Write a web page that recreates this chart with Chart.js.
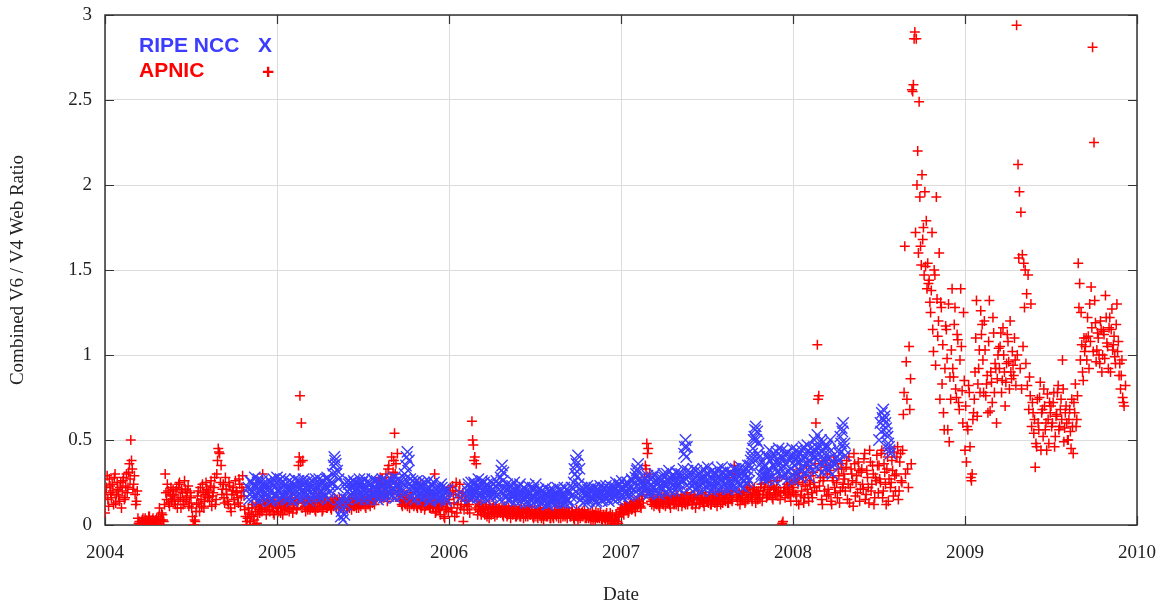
<!DOCTYPE html>
<html>
<head>
<meta charset="utf-8">
<title>Combined V6 / V4 Web Ratio</title>
<script src="https://cdn.jsdelivr.net/npm/chart.js@4.4.1/dist/chart.umd.min.js"></script>
<style>
    html, body { margin: 0; padding: 0; background: #fff; }
    #wrap { width: 1162px; height: 607px; position: relative; }
</style>
</head>
<body>
<div id="wrap"><canvas id="ratioChart"></canvas></div>
<script>
// Axis ticks
const yearTicks = [2004, 2005, 2006, 2007, 2008, 2009, 2010];
const yearLabels = ['2004', '2005', '2006', '2007', '2008', '2009', '2010'];
const ratioTicks = [0, 0.5, 1, 1.5, 2, 2.5, 3];
const ratioLabels = ['0', '0.5', '1', '1.5', '2', '2.5', '3'];

// Samples are ~3 days apart (120 per year), one row = 0.1 year.
// The "B" lists hold the readings that fall halfway between the "A" ones.
const sampleStep = 1 / 120;
const apnicStart = 2004.0;
const ripeStart = 2004.8333;

const apnicRatioA = [
    // 2004
    0.07,0.22,0.15,0.27,0.19,0.24,0.12,0.3,0.18,0.21,0.14,0.25,
    0.2,0.28,0.16,0.3,0.22,0.36,0.5,0.33,0.24,0.18,0.14,0.04,
    0.02,0,0.03,0.01,0.04,0,0.02,0.05,0.01,0.03,0,0.02,
    0.04,0.01,0.1,0.03,0.06,0.02,0.3,0.15,0.2,0.11,0.22,0.17,
    0.18,0.12,0.22,0.15,0.25,0.1,0.19,0.14,0.21,0.17,0.23,0.13,
    0.16,0.05,0,0.02,0.12,0.2,0.08,0.15,0.24,0.1,0.18,0.21,
    0.2,0.14,0.26,0.17,0.22,0.12,0.3,0.45,0.42,0.35,0.21,0.16,
    0.28,0.18,0.12,0.23,0.08,0.2,0.15,0.26,0.19,0.13,0.24,0.17,
    0.29,0.17,0.05,0.02,0.1,0,0.06,0.12,0.03,0.08,0.01,0.11,
    0.07,0.1,0.3,0.14,0.12,0.09,0.15,0.08,0.13,0.11,0.06,0.12,
    // 2005
    0.12,0.08,0.14,0.1,0.06,0.16,0.11,0.09,0.13,0.1,0.15,0.07,
    0.12,0.14,0.1,0.35,0.76,0.6,0.38,0.13,0.08,0.15,0.11,0.09,
    0.12,0.1,0.15,0.08,0.13,0.17,0.11,0.14,0.09,0.12,0.16,0.1,
    0.11,0.14,0.09,0.13,0.16,0.12,0.15,0.1,0.13,0.11,0.14,0.12,
    0.13,0.1,0.15,0.12,0.09,0.14,0.11,0.16,0.12,0.1,0.13,0.15,
    0.12,0.15,0.1,0.18,0.13,0.11,0.2,0.14,0.12,0.16,0.25,0.19,
    0.28,0.15,0.22,0.18,0.3,0.14,0.35,0.25,0.4,0.31,0.54,0.36,
    0.42,0.2,0.15,0.12,0.17,0.13,0.16,0.11,0.14,0.19,0.12,0.15,
    0.12,0.15,0.1,0.13,0.24,0.11,0.14,0.09,0.15,0.12,0.18,0.1,
    0.13,0.1,0.3,0.08,0.12,0.15,0.06,0.11,0.14,0.04,0.09,0.13,
    // 2006
    0.15,0.22,0.08,0.18,0.05,0.25,0.12,0.2,0.1,0.17,0.02,0.14,
    0.14,0.09,0.12,0.2,0.61,0.47,0.4,0.36,0.06,0.11,0.08,0.13,
    0.09,0.06,0.11,0.07,0.04,0.1,0.08,0.12,0.05,0.09,0.07,0.1,
    0.07,0.1,0.05,0.08,0.11,0.06,0.09,0.04,0.1,0.07,0.08,0.05,
    0.06,0.09,0.05,0.08,0.04,0.1,0.07,0.05,0.09,0.06,0.08,0.04,
    0.05,0.08,0.04,0.07,0.1,0.06,0.03,0.08,0.05,0.07,0.09,0.04,
    0.06,0.04,0.09,0.05,0.07,0.11,0.04,0.08,0.06,0.05,0.1,0.07,
    0.07,0.05,0.08,0.04,0.06,0.09,0.03,0.07,0.05,0.08,0.06,0.04,
    0.04,0.07,0.05,0.03,0.08,0.06,0.02,0.05,0.07,0.04,0.06,0.03,
    0.06,0.03,0.07,0.04,0.05,0.02,0.06,0,0.03,0.05,0.01,0.07,
    // 2007
    0.08,0.1,0.06,0.12,0.09,0.07,0.11,0.13,0.1,0.14,0.08,0.12,
    0.12,0.15,0.1,0.18,0.22,0.35,0.48,0.45,0.3,0.14,0.18,0.11,
    0.14,0.12,0.17,0.1,0.15,0.13,0.18,0.11,0.16,0.14,0.12,0.17,
    0.16,0.12,0.15,0.18,0.11,0.14,0.17,0.13,0.15,0.12,0.19,0.14,
    0.14,0.17,0.12,0.16,0.1,0.15,0.18,0.13,0.16,0.14,0.11,0.17,
    0.15,0.13,0.18,0.12,0.16,0.14,0.19,0.11,0.17,0.15,0.2,0.13,
    0.16,0.14,0.19,0.13,0.17,0.15,0.2,0.35,0.3,0.16,0.18,0.12,
    0.18,0.15,0.2,0.14,0.22,0.17,0.21,0.16,0.19,0.22,0.13,0.18,
    0.2,0.16,0.24,0.18,0.22,0.25,0.17,0.28,0.19,0.23,0.15,0.21,
    0.18,0.26,0.2,0.15,0,0.02,0.22,0.19,0.24,0.21,0.17,0.25,
    // 2008
    0.22,0.3,0.18,0.27,0.12,0.33,0.2,0.25,0.16,0.29,0.21,0.14,
    0.24,0.19,0.31,0.22,0.6,1.06,0.76,0.28,0.15,0.26,0.2,0.34,
    0.3,0.18,0.35,0.12,0.26,0.22,0.38,0.16,0.29,0.2,0.33,0.24,
    0.27,0.34,0.15,0.4,0.22,0.3,0.11,0.36,0.25,0.19,0.32,0.21,
    0.33,0.21,0.42,0.18,0.28,0.13,0.37,0.24,0.3,0.16,0.26,0.35,
    0.35,0.25,0.44,0.2,0.31,0.12,0.4,0.27,0.22,0.38,0.17,0.29,
    0.3,0.46,0.2,0.42,0.25,0.65,1.64,0.96,0.33,1.05,0.86,2.56,
    2.59,2.9,2.86,2.2,2.49,1.64,2.06,1.75,1.96,1.79,1.54,1.44,
    1.25,1.72,1.02,1.47,1.93,1.11,1.6,1.31,0.83,0.66,0.92,1.15,
    0.56,0.49,0.74,1.39,0.87,1.28,0.75,1.09,0.68,1.39,0.79,1.25,
    // 2009
    0.44,0.37,0.56,0.78,0.28,0.3,0.66,0.9,1.32,0.83,1.03,1.26,
    1.18,0.78,1.03,0.83,0.66,1.32,0.9,0.72,1.13,0.95,0.6,1,
    0.92,1.13,0.85,1,0.7,0.95,1.08,0.8,0.9,1.02,0.88,0.97,
    2.94,2.12,1.96,1.84,1.59,1.54,1.5,1.36,1.47,0.87,1.3,0.72,
    0.54,0.34,0.46,0.6,0.75,0.44,0.68,0.8,0.56,0.44,0.62,0.72,
    0.7,0.6,0.78,0.52,0.65,0.82,0.58,0.74,0.97,0.49,0.66,0.6,
    0.5,0.68,0.45,0.58,0.72,0.83,0.62,1.54,1.42,1.25,0.9,1.1,
    1.05,0.97,1.11,1.3,1.4,2.81,2.25,1.19,1.03,1.1,0.95,1.15,
    1,1.12,1.35,1.07,0.92,1.22,1.15,1.03,1.11,0.95,1.3,1.08,
    0.95,0.88,0.75,0.7,0.82
];

const apnicRatioB = [
    // 2004
    0.18,0.29,0.11,0.23,0.16,0.2,0.28,0.13,0.25,0.17,0.22,0.1,
    0.26,0.15,0.23,0.19,0.31,0.27,0.38,0.21,0.29,0.12,0.2,0.01,
    0,0.02,0.04,0,0.03,0.01,0.05,0.02,0,0.04,0.01,0.03,
    0.02,0.05,0,0.07,0.03,0.12,0.19,0.24,0.13,0.18,0.14,0.21,
    0.14,0.2,0.1,0.24,0.16,0.21,0.12,0.26,0.15,0.2,0.11,0.19,
    0.1,0,0.03,0.08,0.17,0.13,0.22,0.11,0.19,0.14,0.25,0.16,
    0.17,0.23,0.11,0.19,0.28,0.15,0.38,0.43,0.25,0.18,0.24,0.13,
    0.21,0.14,0.25,0.1,0.18,0.22,0.12,0.2,0.16,0.27,0.11,0.22,
    0.2,0.09,0,0.04,0.07,0.02,0.1,0.05,0,0.13,0.06,0.09,
    0.12,0.08,0.15,0.1,0.06,0.13,0.09,0.14,0.11,0.07,0.16,0.1,
    // 2005
    0.1,0.13,0.07,0.15,0.11,0.09,0.14,0.12,0.08,0.16,0.1,0.13,
    0.15,0.09,0.13,0.4,0.37,0.1,0.14,0.11,0.16,0.09,0.13,0.1,
    0.14,0.11,0.09,0.16,0.1,0.13,0.15,0.08,0.12,0.14,0.1,0.13,
    0.13,0.1,0.15,0.11,0.14,0.1,0.12,0.16,0.11,0.13,0.1,0.15,
    0.11,0.14,0.1,0.13,0.16,0.11,0.14,0.1,0.15,0.12,0.11,0.14,
    0.14,0.11,0.16,0.12,0.15,0.18,0.13,0.17,0.15,0.22,0.2,0.26,
    0.2,0.27,0.16,0.24,0.19,0.33,0.22,0.28,0.18,0.38,0.3,0.24,
    0.18,0.14,0.2,0.11,0.15,0.12,0.18,0.14,0.1,0.16,0.13,0.11,
    0.14,0.11,0.16,0.12,0.1,0.15,0.13,0.11,0.17,0.13,0.1,0.14,
    0.11,0.14,0.07,0.13,0.1,0.09,0.14,0.12,0.05,0.1,0.15,0.08,
    // 2006
    0.19,0.1,0.23,0.13,0.2,0.07,0.16,0.24,0.12,0.19,0.09,0.15,
    0.11,0.15,0.07,0.17,0.5,0.38,0.1,0.14,0.09,0.12,0.06,0.1,
    0.07,0.1,0.05,0.09,0.12,0.06,0.1,0.07,0.11,0.06,0.09,0.08,
    0.09,0.06,0.11,0.07,0.05,0.1,0.07,0.09,0.06,0.11,0.05,0.08,
    0.08,0.05,0.1,0.07,0.09,0.05,0.08,0.11,0.06,0.08,0.05,0.09,
    0.07,0.05,0.09,0.06,0.04,0.08,0.06,0.1,0.05,0.07,0.04,0.08,
    0.05,0.08,0.06,0.09,0.04,0.07,0.09,0.05,0.08,0.06,0.04,0.08,
    0.05,0.08,0.06,0.03,0.07,0.05,0.08,0.04,0.07,0.05,0.09,0.06,
    0.06,0.04,0.07,0.05,0.03,0.06,0.08,0.04,0.05,0.07,0.03,0.06,
    0.04,0.06,0.02,0.05,0.07,0.03,0.01,0.04,0.06,0.02,0.05,0.09,
    // 2007
    0.1,0.07,0.12,0.09,0.11,0.08,0.13,0.09,0.12,0.1,0.14,0.11,
    0.14,0.11,0.17,0.13,0.28,0.33,0.42,0.2,0.16,0.12,0.15,0.13,
    0.13,0.16,0.11,0.14,0.18,0.12,0.15,0.17,0.13,0.16,0.1,0.15,
    0.13,0.16,0.12,0.17,0.14,0.15,0.11,0.16,0.13,0.18,0.12,0.16,
    0.16,0.12,0.15,0.18,0.13,0.17,0.12,0.15,0.19,0.13,0.16,0.14,
    0.14,0.17,0.12,0.15,0.18,0.13,0.16,0.14,0.19,0.12,0.16,0.18,
    0.15,0.18,0.13,0.16,0.2,0.14,0.28,0.32,0.17,0.14,0.19,0.15,
    0.16,0.2,0.13,0.19,0.15,0.23,0.18,0.14,0.21,0.17,0.2,0.15,
    0.18,0.22,0.14,0.2,0.27,0.16,0.21,0.18,0.26,0.16,0.22,0.19,
    0.22,0.17,0.28,0.19,0.01,0.2,0.16,0.27,0.18,0.23,0.14,0.2,
    // 2008
    0.19,0.26,0.14,0.24,0.31,0.17,0.28,0.13,0.23,0.35,0.18,0.26,
    0.29,0.16,0.25,0.36,0.2,0.74,0.23,0.32,0.12,0.28,0.38,0.17,
    0.21,0.32,0.14,0.28,0.4,0.19,0.25,0.33,0.13,0.36,0.22,0.3,
    0.2,0.38,0.24,0.13,0.33,0.26,0.42,0.17,0.29,0.37,0.14,0.31,
    0.24,0.39,0.15,0.32,0.22,0.44,0.2,0.35,0.12,0.28,0.41,0.19,
    0.27,0.42,0.16,0.36,0.24,0.33,0.14,0.45,0.25,0.32,0.43,0.2,
    0.4,0.15,0.37,0.26,0.44,0.78,0.3,0.74,0.22,0.68,0.36,2.55,
    2.86,1.72,2,1.6,1.93,1.53,1.68,1.47,1.52,1.39,1.42,1.31,
    1.38,1.15,1.5,0.94,1.33,1.2,0.74,1.28,1.06,0.56,1.17,0.98,
    1.3,0.87,1.03,0.92,1.18,0.8,1.12,0.72,0.97,1.05,0.6,0.85,
    // 2009
    0.7,0.58,0.82,0.46,0.26,0.62,0.74,1.1,0.64,0.92,0.78,1.12,
    0.97,1.2,0.76,0.88,1.08,0.67,0.84,1.22,0.78,0.92,0.86,1.04,
    1.05,0.78,1.16,0.9,0.84,1.12,0.96,1.2,0.86,0.94,1.1,0.82,
    1,1.57,0.92,0.8,1.05,1.28,0.95,0.82,0.68,0.76,0.58,0.66,
    0.62,0.48,0.74,0.56,0.84,0.66,0.52,0.7,0.6,0.77,0.48,0.66,
    0.58,0.72,0.46,0.64,0.78,0.56,0.68,0.62,0.8,0.57,0.7,0.5,
    0.62,0.55,0.74,0.42,0.66,0.58,0.76,1.28,0.97,1.06,0.85,1.02,
    1.1,1.22,0.92,1.08,1.16,1.02,1.32,0.96,1.13,1,1.2,0.9,
    1.14,0.98,1.22,1.05,1.16,0.9,1.27,1.06,0.99,1.18,1.02,0.88,
    0.8,0.97,0.72
];

const ripeRatioA = [
    // from Nov 2004
    0.22,0.18,0.25,0.2,0.16,0.23,0.19,0.27,0.21,0.17,0.24,0.2,
    0.19,0.23,0.17,0.26,0.2,0.15,0.22,0.18,0.28,0.21,0.16,0.24,
    0.2,0.17,0.24,0.19,0.22,0.16,0.25,0.21,0.18,0.23,0.2,0.26,
    0.18,0.22,0.2,0.25,0.17,0.21,0.24,0.19,0.16,0.23,0.2,0.27,
    0.21,0.18,0.24,0.2,0.26,0.17,0.22,0.28,0.19,0.23,0.25,0.3,
    0.4,0.36,0.32,0.27,0.15,0.08,0.03,0.06,0.12,0.2,0.24,0.18,
    0.22,0.19,0.25,0.17,0.21,0.24,0.2,0.16,0.23,0.27,0.19,0.22,
    0.2,0.24,0.18,0.22,0.26,0.19,0.21,0.17,0.25,0.2,0.23,0.18,
    0.21,0.25,0.19,0.23,0.17,0.22,0.28,0.2,0.24,0.18,0.26,0.21,
    0.24,0.3,0.35,0.43,0.38,0.27,0.22,0.19,0.25,0.2,0.17,0.23,
    0.19,0.22,0.16,0.2,0.24,0.18,0.21,0.15,0.23,0.19,0.17,0.21,
    0.18,0.2,0.15,0.22,0.17,0.19,0.14,0.21,null,null,null,null,
    null,null,null,null,0.16,null,null,null,null,0.2,0.22,0.18,
    0.21,0.18,0.24,0.2,0.16,0.23,0.19,0.26,0.17,0.22,0.2,0.18,
    0.22,0.19,0.17,0.24,0.2,0.26,0.18,0.21,0.28,0.35,0.31,0.2,
    0.17,0.21,0.19,0.15,0.23,0.18,0.2,0.16,0.22,0.19,0.14,0.21,
    0.18,0.15,0.2,0.17,0.13,0.19,0.16,0.21,0.14,0.18,0.2,0.15,
    0.16,0.13,0.19,0.15,0.18,0.12,0.17,0.2,0.14,0.16,0.19,0.13,
    0.17,0.14,0.2,0.16,0.18,0.13,0.21,0.15,0.19,0.17,0.22,0.25,
    0.3,0.36,0.41,0.33,0.2,0.16,0.19,0.14,0.18,0.21,0.15,0.17,
    0.2,0.16,0.18,0.14,0.21,0.17,0.19,0.15,0.22,0.18,0.16,0.2,
    0.17,0.21,0.19,0.15,0.22,0.18,0.2,0.24,0.17,0.21,0.19,0.23,
    0.2,0.24,0.18,0.22,0.26,0.21,0.28,0.32,0.36,0.25,0.22,0.19,
    0.23,0.27,0.21,0.25,0.19,0.24,0.28,0.22,0.26,0.2,0.25,0.23,
    0.26,0.22,0.28,0.24,0.3,0.21,0.25,0.27,0.23,0.29,0.25,0.22,
    0.27,0.24,0.3,0.26,0.42,0.5,0.46,0.28,0.25,0.3,0.23,0.27,
    0.25,0.29,0.23,0.27,0.31,0.24,0.28,0.26,0.22,0.3,0.25,0.28,
    0.27,0.23,0.3,0.25,0.28,0.22,0.26,0.31,0.24,0.27,0.29,0.23,
    0.26,0.3,0.24,0.28,0.33,0.25,0.29,0.23,0.27,0.31,0.26,0.3,
    0.28,0.32,0.35,0.4,0.45,0.52,0.58,0.55,0.48,0.36,0.3,0.33,
    0.35,0.3,0.4,0.33,0.38,0.28,0.42,0.34,0.37,0.31,0.45,0.36,
    0.33,0.39,0.3,0.36,0.43,0.32,0.38,0.29,0.41,0.35,0.31,0.4,
    0.37,0.32,0.44,0.35,0.4,0.3,0.47,0.38,0.34,0.42,0.36,0.5,
    0.4,0.53,0.45,0.36,0.48,0.38,0.42,0.34,0.46,0.39,0.5,0.37,
    null,null,0.36,0.4,0.44,0.52,0.57,0.6,0.48,null,null,null,
    null,null,null,null,null,null,null,null,null,null,null,null,
    null,null,null,null,null,null,null,null,0.5,0.6,0.66,0.68,
    0.64,0.57,0.52,0.46,0.42
];

const ripeRatioB = [
    0.15,0.26,0.19,0.23,0.28,0.17,0.25,0.14,0.2,0.26,0.16,0.22,
    0.25,0.16,0.21,0.14,0.24,0.27,0.18,0.25,0.15,0.2,0.27,0.17,
    0.23,0.27,0.15,0.21,0.26,0.2,0.14,0.24,0.27,0.17,0.22,0.15,
    0.25,0.15,0.27,0.19,0.23,0.26,0.14,0.22,0.26,0.18,0.24,0.16,
    0.24,0.27,0.16,0.25,0.19,0.23,0.27,0.15,0.26,0.2,0.24,0.35,
    0.38,0.3,0.22,0.12,0.05,0.1,0.16,0.24,0.15,0.26,0.21,0.25,
    0.17,0.26,0.2,0.24,0.15,0.27,0.18,0.25,0.21,0.15,0.25,0.17,
    0.25,0.15,0.27,0.18,0.21,0.26,0.15,0.24,0.19,0.27,0.16,0.24,
    0.26,0.17,0.24,0.27,0.2,0.25,0.16,0.23,0.27,0.21,0.17,0.25,
    0.18,0.27,0.4,0.32,0.24,0.16,0.26,0.22,0.15,0.26,0.21,0.25,
    0.23,0.15,0.25,0.18,0.21,0.26,0.14,0.24,0.17,0.25,0.22,0.15,
    0.22,0.16,0.24,0.18,0.21,0.16,0.2,null,null,null,null,null,
    null,null,null,0.19,null,null,null,null,0.17,0.24,0.16,0.25,
    0.16,0.25,0.19,0.23,0.27,0.17,0.24,0.2,0.25,0.15,0.24,0.21,
    0.16,0.25,0.21,0.18,0.23,0.17,0.24,0.15,0.32,0.26,0.22,0.16,
    0.24,0.15,0.23,0.2,0.17,0.25,0.14,0.22,0.17,0.24,0.19,0.16,
    0.22,0.13,0.17,0.23,0.19,0.14,0.22,0.16,0.24,0.15,0.21,0.13,
    0.2,0.17,0.14,0.22,0.12,0.2,0.15,0.13,0.21,0.17,0.14,0.22,
    0.14,0.21,0.17,0.13,0.22,0.16,0.14,0.2,0.13,0.22,0.18,0.33,
    0.38,0.28,0.24,0.15,0.22,0.13,0.21,0.17,0.23,0.14,0.2,0.22,
    0.15,0.22,0.13,0.2,0.17,0.23,0.14,0.21,0.16,0.23,0.2,0.14,
    0.23,0.16,0.22,0.18,0.25,0.15,0.23,0.19,0.26,0.16,0.24,0.18,
    0.25,0.17,0.23,0.27,0.18,0.24,0.3,0.33,0.27,0.19,0.26,0.24,
    0.2,0.24,0.29,0.18,0.27,0.22,0.19,0.3,0.21,0.27,0.18,0.28,
    0.21,0.3,0.24,0.19,0.27,0.32,0.2,0.29,0.26,0.2,0.31,0.24,
    0.3,0.21,0.27,0.33,0.46,0.4,0.32,0.22,0.31,0.26,0.33,0.21,
    0.32,0.22,0.3,0.2,0.27,0.33,0.21,0.3,0.34,0.23,0.31,0.2,
    0.22,0.31,0.26,0.33,0.21,0.3,0.34,0.22,0.29,0.32,0.21,0.3,
    0.31,0.22,0.33,0.27,0.21,0.32,0.24,0.34,0.3,0.22,0.33,0.25,
    0.35,0.26,0.38,0.42,0.5,0.56,0.5,0.42,0.4,0.28,0.37,0.27,
    0.29,0.41,0.27,0.44,0.3,0.39,0.35,0.26,0.43,0.38,0.3,0.41,
    0.44,0.28,0.36,0.42,0.27,0.4,0.33,0.45,0.26,0.38,0.44,0.3,
    0.42,0.28,0.38,0.46,0.31,0.43,0.36,0.28,0.45,0.32,0.4,0.44,
    0.46,0.33,0.42,0.5,0.31,0.44,0.38,0.47,0.32,0.43,0.35,0.3,
    null,null,null,0.38,0.42,0.48,0.55,0.45,0.41,null,null,null,
    null,null,null,null,null,null,null,null,null,null,null,null,
    null,null,null,null,null,null,null,null,null,0.55,0.63,0.62,
    0.6,0.54,0.48,0.44
];

const RED = 'rgb(255, 0, 0)';
const BLUE = 'rgb(60, 60, 255)';
const SERIF = '"Liberation Serif", "Times New Roman", serif';
const TICK_LEN = 9;

// turn regular sample lists into scatter points, B between the A samples
function toPoints(start, listA, listB) {
    const pts = listA.map((v, i) => ({ x: start + i * sampleStep, y: v }));
    listB.forEach((v, i) => pts.push({ x: start + (i + 0.5) * sampleStep, y: v }));
    return pts;
}

// gnuplot-like frame with inward ticks on all four sides
const frameTicks = {
    id: 'frameTicks',
    beforeDatasetsDraw(chart) {
        const { ctx, chartArea: a, scales: { x, y } } = chart;
        ctx.save();
        ctx.strokeStyle = '#333';
        ctx.lineWidth = 1.5;
        ctx.strokeRect(a.left, a.top, a.right - a.left, a.bottom - a.top);
        ctx.lineWidth = 1.2;
        ctx.beginPath();
        x.ticks.forEach(t => {
            const px = Math.round(x.getPixelForValue(t.value)) + 0.5;
            ctx.moveTo(px, a.bottom); ctx.lineTo(px, a.bottom - TICK_LEN);
            ctx.moveTo(px, a.top); ctx.lineTo(px, a.top + TICK_LEN);
        });
        y.ticks.forEach(t => {
            const py = Math.round(y.getPixelForValue(t.value)) + 0.5;
            ctx.moveTo(a.left, py); ctx.lineTo(a.left + TICK_LEN, py);
            ctx.moveTo(a.right, py); ctx.lineTo(a.right - TICK_LEN, py);
        });
        ctx.stroke();
        ctx.restore();
    }
};

// key in the top left corner, text first then the symbol
const keyBox = {
    id: 'keyBox',
    afterDraw(chart) {
        const { ctx, chartArea: a } = chart;
        ctx.save();
        ctx.font = 'bold 21px "Liberation Sans", Arial, sans-serif';
        ctx.textBaseline = 'middle';
        ctx.textAlign = 'left';
        ctx.fillStyle = BLUE;
        ctx.fillText('RIPE NCC', a.left + 34, a.top + 31);
        ctx.fillText('X', a.left + 153, a.top + 31);
        ctx.fillStyle = RED;
        ctx.fillText('APNIC', a.left + 34, a.top + 56);
        ctx.fillText('+', a.left + 157, a.top + 58);
        ctx.restore();
    }
};

const ctx = document.getElementById('ratioChart').getContext('2d');
const ratioChart = new Chart(ctx, {
    type: 'scatter',
    data: {
        datasets: [
            {
                label: 'RIPE NCC',
                data: toPoints(ripeStart, ripeRatioA, ripeRatioB),
                pointStyle: 'crossRot',
                pointRadius: 8,
                borderColor: BLUE,
                borderWidth: 1.4
            },
            {
                label: 'APNIC',
                data: toPoints(apnicStart, apnicRatioA, apnicRatioB),
                pointStyle: 'cross',
                pointRadius: 5,
                borderColor: RED,
                borderWidth: 1.5
            }
        ]
    },
    options: {
        responsive: true,
        maintainAspectRatio: false,
        animation: false,
        events: [],
        layout: { padding: { left: 0, right: 25, top: 15, bottom: 0 } },
        plugins: {
            legend: { display: false },
            tooltip: { enabled: false }
        },
        scales: {
            x: {
                type: 'linear',
                min: 2004,
                max: 2010,
                afterBuildTicks: s => { s.ticks = yearTicks.map(v => ({ value: v })); },
                afterFit: s => { s.height = 82; s.paddingLeft = 0; s.paddingRight = 0; },
                grid: { color: '#dcdcdc', drawTicks: false },
                border: { display: false },
                ticks: {
                    padding: 17,
                    color: '#222',
                    font: { family: SERIF, size: 19 },
                    callback: (v) => yearLabels[yearTicks.indexOf(v)]
                },
                title: {
                    display: true,
                    text: 'Date',
                    color: '#222',
                    font: { family: SERIF, size: 19 },
                    padding: { top: 0, bottom: 1 }
                }
            },
            y: {
                min: 0,
                max: 3,
                afterBuildTicks: s => { s.ticks = ratioTicks.map(v => ({ value: v })); },
                afterFit: s => { s.width = 105; s.paddingTop = 0; s.paddingBottom = 0; },
                grid: { color: '#dcdcdc', drawTicks: false },
                border: { display: false },
                ticks: {
                    padding: 13,
                    color: '#222',
                    font: { family: SERIF, size: 19 },
                    callback: (v) => ratioLabels[ratioTicks.indexOf(v)]
                },
                title: {
                    display: true,
                    text: 'Combined V6 / V4 Web Ratio',
                    color: '#222',
                    font: { family: SERIF, size: 19 },
                    padding: { top: 7, bottom: 0 }
                }
            }
        }
    },
    plugins: [frameTicks, keyBox]
});
</script>
</body>
</html>
